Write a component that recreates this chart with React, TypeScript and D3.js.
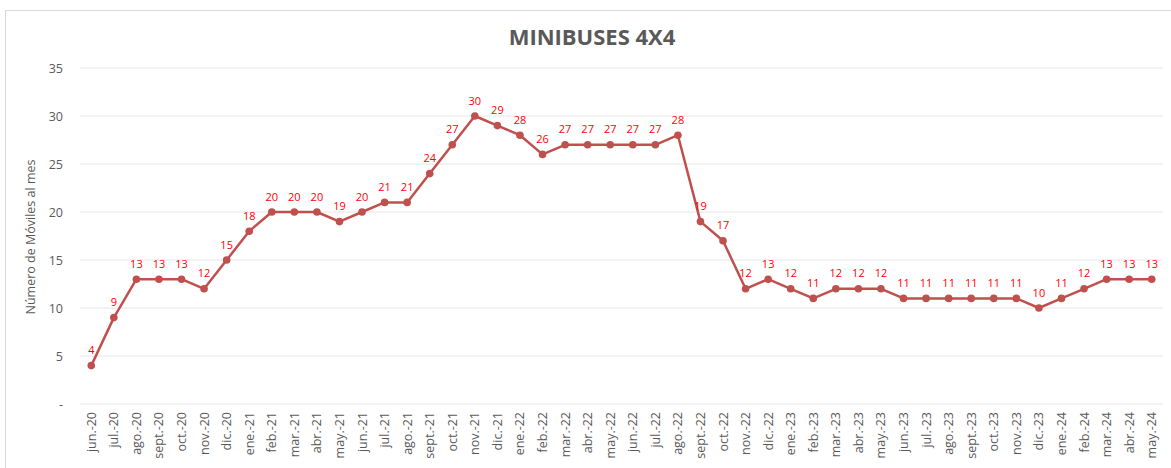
import React from 'react';
import * as d3 from 'd3';

const months = ['jun.-20','jul.-20','ago.-20','sept.-20','oct.-20','nov.-20','dic.-20','ene.-21','feb.-21','mar.-21','abr.-21','may.-21','jun.-21','jul.-21','ago.-21','sept.-21','oct.-21','nov.-21','dic.-21','ene.-22','feb.-22','mar.-22','abr.-22','may.-22','jun.-22','jul.-22','ago.-22','sept.-22','oct.-22','nov.-22','dic.-22','ene.-23','feb.-23','mar.-23','abr.-23','may.-23','jun.-23','jul.-23','ago.-23','sept.-23','oct.-23','nov.-23','dic.-23','ene.-24','feb.-24','mar.-24','abr.-24','may.-24'];
const moviles = [4,9,13,13,13,12,15,18,20,20,20,19,20,21,21,24,27,30,29,28,26,27,27,27,27,27,28,19,17,12,13,12,11,12,12,12,11,11,11,11,11,11,10,11,12,13,13,13];
const yTicks = [0,5,10,15,20,25,30,35];

const W = 1171, H = 468;
const font = '"Open Sans", Calibri, sans-serif';

export default function App() {
  const x = d3.scaleBand<string>().domain(months).range([80, 1163]);
  const y = d3.scaleLinear().domain([0, 35]).range([404, 68]);
  const cx = (m: string) => (x(m) as number) + x.bandwidth() / 2;
  const line = d3.line<number>().x((d, i) => cx(months[i])).y(d => y(d));

  return (
    <svg width={W} height={H} style={{position:'absolute', left:0, top:0, background:'#fff'}} fontFamily={font}>
      <rect x={5.5} y={10.5} width={W + 10} height={H + 10} fill="none" stroke="#d9d9d9" />
      <text x={592} y={45} textAnchor="middle" fontSize={22} fontWeight="bold" fill="#595959">MINIBUSES 4X4</text>
      {yTicks.map(t => (
        <g key={t}>
          <line x1={80} x2={1163} y1={y(t)} y2={y(t)} stroke="#e6e6e6" strokeWidth={1} />
          <text x={63} y={y(t) + 4.5} textAnchor="end" fontSize={12.5} fill="#595959">{t === 0 ? '-' : t}</text>
        </g>
      ))}
      <text transform="translate(35,237) rotate(-90)" textAnchor="middle" fontSize={12.5} fill="#595959">Número de Móviles al mes</text>
      {months.map(m => (
        <text key={m} transform={`translate(${cx(m) + 4.5},412) rotate(-90)`} textAnchor="end" fontSize={12.5} fill="#595959">{m}</text>
      ))}
      <path d={line(moviles) || ''} fill="none" stroke="#c0504d" strokeWidth={2.5} strokeLinejoin="round" />
      {moviles.map((v, i) => (
        <g key={i}>
          <circle cx={cx(months[i])} cy={y(v)} r={3.8} fill="#c0504d" />
          <text x={cx(months[i])} y={y(v) - 11.5} textAnchor="middle" fontSize={11} fill="#ff0000">{v}</text>
        </g>
      ))}
    </svg>
  );
}
